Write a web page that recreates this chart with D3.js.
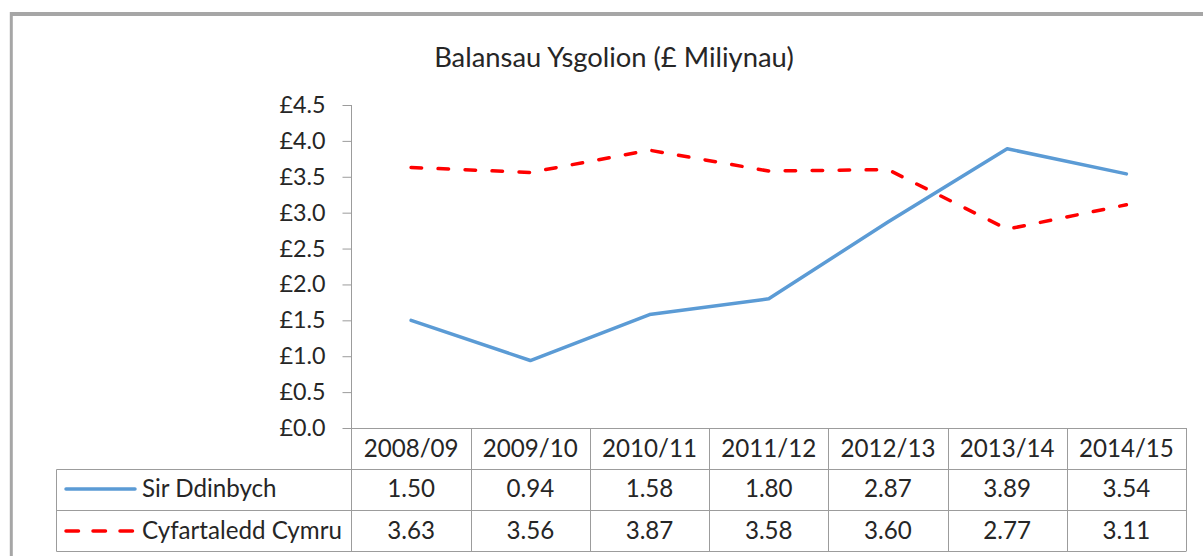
<!DOCTYPE html>
<html>
<head>
<meta charset="utf-8">
<script src="https://cdn.jsdelivr.net/npm/d3@7"></script>
<style>
  body { margin: 0; background: #fff; }
  svg { display: block; }
  text { font-family: Lato, "Open Sans", sans-serif; fill: #262626; }
</style>
</head>
<body>
<svg id="chart" width="1203" height="556"></svg>
<script>
// ---- data ----
const chartTitle = "Balansau Ysgolion (£ Miliynau)";
const categories = ["2008/09", "2009/10", "2010/11", "2011/12", "2012/13", "2013/14", "2014/15"];
const seriesNames = ["Sir Ddinbych", "Cyfartaledd Cymru"];
const sirDdinbych = [1.50, 0.94, 1.58, 1.80, 2.87, 3.89, 3.54];
const cyfartaleddCymru = [3.63, 3.56, 3.87, 3.58, 3.60, 2.77, 3.11];
const yTicks = [0, 0.5, 1.0, 1.5, 2.0, 2.5, 3.0, 3.5, 4.0, 4.5];

// ---- layout ----
const svg = d3.select("#chart");
const plotLeft = 351.5, plotRight = 1186, plotTop = 105, plotBottom = 428;
const headerBottom = 469.5, row1Bottom = 510.5, row2Bottom = 551.5, tableLeft = 56.5;
const gridColor = "#9c9c9c";
const blue = "#5B9BD5", red = "#FF0000";

function fitSize(str, target, base) {
  const t = svg.append("text").style("font-size", base + "px").text(str);
  const w = t.node().getComputedTextLength();
  t.remove();
  return base * target / w;
}
const titleSize = fitSize(chartTitle, 360, 20);
const tickFont = fitSize("£4.5", 46, 20);
const tableFont = fitSize("Cyfartaledd Cymru", 200, 20);

// outer border (partially visible)
svg.append("line").attr("x1", 10).attr("x2", 1203).attr("y1", 14).attr("y2", 14)
  .attr("stroke", "#a6a6a6").attr("stroke-width", 4);
svg.append("line").attr("x1", 11.3).attr("x2", 11.3).attr("y1", 12).attr("y2", 556)
  .attr("stroke", "#a6a6a6").attr("stroke-width", 3);

// title
svg.append("text").attr("x", 614).attr("y", 67).attr("text-anchor", "middle")
  .style("font-size", titleSize + "px").text(chartTitle);

// scales
const x = d3.scaleBand().domain(categories).range([plotLeft, plotRight]).padding(0);
const y = d3.scaleLinear().domain([0, 4.5]).range([plotBottom, plotTop]);
const cx = c => x(c) + x.bandwidth() / 2;

// y axis
const yAxis = svg.append("g").attr("transform", `translate(${plotLeft},0)`)
  .call(d3.axisLeft(y).tickValues(yTicks).tickFormat(d => "£" + d.toFixed(1))
    .tickSize(9).tickSizeOuter(0).tickPadding(17));
yAxis.select(".domain").remove();
yAxis.selectAll(".tick line").attr("stroke", gridColor);
yAxis.selectAll(".tick text").style("font-size", tickFont + "px")
  .style("font-family", "Lato, 'Open Sans', sans-serif").attr("fill", "#262626");

// vertical axis line extending through table
svg.append("line").attr("x1", plotLeft).attr("x2", plotLeft).attr("y1", plotTop).attr("y2", row2Bottom)
  .attr("stroke", gridColor);

// table grid
const hLines = [
  {y: plotBottom + 0.5, x1: plotLeft, x2: plotRight},
  {y: headerBottom, x1: tableLeft, x2: plotRight},
  {y: row1Bottom, x1: tableLeft, x2: plotRight},
  {y: row2Bottom, x1: tableLeft, x2: plotRight}
];
svg.selectAll(".hl").data(hLines).join("line").attr("class", "hl")
  .attr("x1", d => d.x1).attr("x2", d => d.x2).attr("y1", d => d.y).attr("y2", d => d.y)
  .attr("stroke", gridColor);
const bounds = categories.map(c => x(c)).concat([plotRight]);
svg.selectAll(".vl").data(bounds.slice(1)).join("line").attr("class", "vl")
  .attr("x1", d => Math.round(d) + 0.5).attr("x2", d => Math.round(d) + 0.5)
  .attr("y1", plotBottom).attr("y2", row2Bottom).attr("stroke", gridColor);
svg.append("line").attr("x1", tableLeft).attr("x2", tableLeft).attr("y1", headerBottom).attr("y2", row2Bottom)
  .attr("stroke", gridColor);

// header labels
svg.selectAll(".hdr").data(categories).join("text").attr("class", "hdr")
  .attr("x", d => cx(d)).attr("y", 457).attr("text-anchor", "middle")
  .style("font-size", tableFont + "px").text(d => d);

// value rows
const rows = [
  {name: seriesNames[0], values: sirDdinbych, base: 497, color: blue, dash: null, ly: 489},
  {name: seriesNames[1], values: cyfartaleddCymru, base: 539, color: red, dash: "12.5,14.5", ly: 531}
];
rows.forEach(r => {
  svg.selectAll(null).data(r.values).join("text")
    .attr("x", (d, i) => cx(categories[i])).attr("y", r.base).attr("text-anchor", "middle")
    .style("font-size", tableFont + "px").text(d => d.toFixed(2));
  svg.append("text").attr("x", 142).attr("y", r.base)
    .style("font-size", tableFont + "px").text(r.name);
  const ll = svg.append("line").attr("x1", 66).attr("x2", 135).attr("y1", r.ly).attr("y2", r.ly)
    .attr("stroke", r.color).attr("stroke-width", 3.5).attr("stroke-linecap", "round");
  if (r.dash) ll.attr("stroke-dasharray", r.dash);
});

// series lines
const line = d3.line().x((d, i) => cx(categories[i])).y(d => y(d)).curve(d3.curveLinear);

svg.append("path").datum(sirDdinbych).attr("d", line)
  .attr("fill", "none").attr("stroke", blue).attr("stroke-width", 3.5)
  .attr("stroke-linejoin", "round").attr("stroke-linecap", "round");
svg.append("path").datum(cyfartaleddCymru).attr("d", line)
  .attr("fill", "none").attr("stroke", red).attr("stroke-width", 3.5)
  .attr("stroke-linejoin", "round")
  .attr("stroke-dasharray", "10.5,16.5").attr("stroke-linecap", "round");
</script>
</body>
</html>
